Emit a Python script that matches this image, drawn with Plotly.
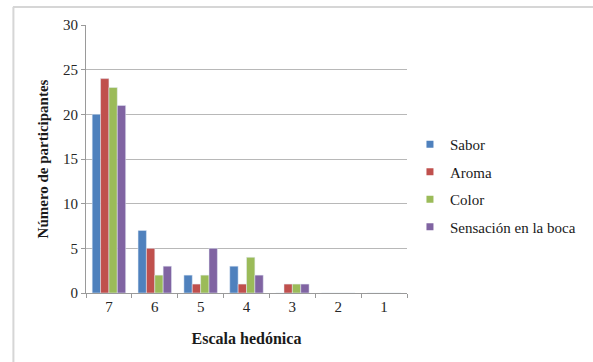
import plotly.graph_objects as go

# Hedonic scale categories (7 = highest) and participant counts per attribute
escala = ["7", "6", "5", "4", "3", "2", "1"]
sabor = [20, 7, 2, 3, 0, 0, 0]
aroma = [24, 5, 1, 1, 1, 0, 0]
color = [23, 2, 2, 4, 1, 0, 0]
sensacion = [21, 3, 5, 2, 1, 0, 0]

series = [
    ("Sabor", sabor, "#4F81BD"),
    ("Aroma", aroma, "#C0504D"),
    ("Color", color, "#9BBB59"),
    ("Sensación en la boca", sensacion, "#8064A2"),
]

FONT = "Liberation Serif"

fig = go.Figure()
for name, vals, col in series:
    fig.add_trace(go.Bar(x=escala, y=vals, name=name, marker_color=col,
                         showlegend=False, legendgroup=name))
# Small square legend keys
for name, vals, col in series:
    fig.add_trace(go.Scatter(x=[None], y=[None], mode="markers", name=name,
                             legendgroup=name,
                             marker=dict(symbol="square", size=7, color=col)))

W, H = 593, 362
L, R, T, B = 86, 182, 25, 69
pw, ph = W - L - R, H - T - B


def px(x):
    return (x - L) / pw


def py(y):
    return (H - B - y) / ph


fig.update_layout(
    width=W, height=H,
    margin=dict(l=L, r=R, t=T, b=B),
    paper_bgcolor="white", plot_bgcolor="white",
    font=dict(family=FONT, size=15, color="#262626"),
    barmode="group", bargap=0.27, bargroupgap=0,
    legend=dict(x=px(414), y=py(185.5), xanchor="left", yanchor="middle",
                font=dict(family=FONT, size=15, color="#1a1a1a"), tracegroupgap=5,
                itemwidth=30, bgcolor="rgba(0,0,0,0)"),
    xaxis=dict(type="category", showline=True, linecolor="#9a9a9a", linewidth=1,
               ticks="outside", tickson="boundaries", ticklen=4, tickcolor="#9a9a9a",
               showgrid=False, tickfont=dict(family=FONT, size=15),
               title=dict(text="<b>Escala hedónica</b>", standoff=18,
                          font=dict(family=FONT, size=16, color="#1a1a1a"))),
    yaxis=dict(range=[0, 30], dtick=5, showline=True, linecolor="#9a9a9a", linewidth=1,
               ticks="outside", ticklen=4, tickcolor="#9a9a9a",
               showgrid=True, gridcolor="#b8b8b8", gridwidth=1, zeroline=False,
               tickfont=dict(family=FONT, size=15),
               title=dict(text="<b>Número de participantes</b>", standoff=10,
                          font=dict(family=FONT, size=15, color="#1a1a1a"))),
    shapes=[
        dict(type="line", xref="paper", yref="paper", x0=px(12), x1=px(600),
             y0=py(7), y1=py(7), line=dict(color="#d6d6d6", width=2)),
        dict(type="line", xref="paper", yref="paper", x0=px(12.5), x1=px(12.5),
             y0=py(7), y1=py(370), line=dict(color="#d6d6d6", width=2)),
    ],
)

fig.write_html("out.html")
